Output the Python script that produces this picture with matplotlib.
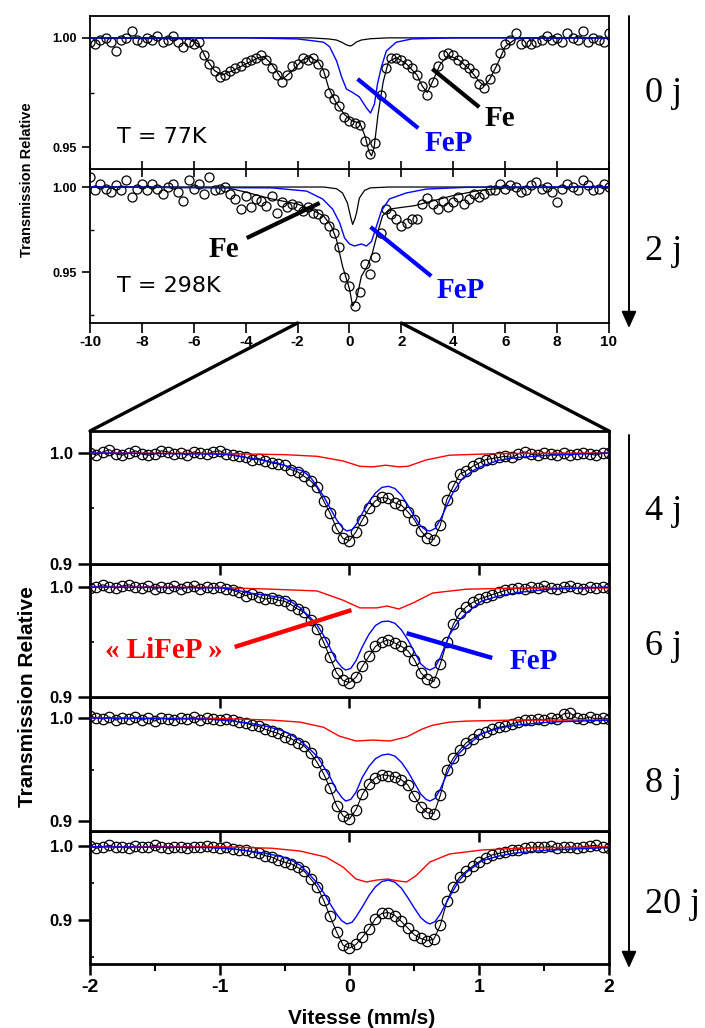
import numpy as np
import matplotlib
matplotlib.use("Agg")
import matplotlib.pyplot as plt
from matplotlib.patches import ConnectionPatch, FancyArrowPatch
from matplotlib.ticker import MultipleLocator, FixedLocator, FormatStrFormatter

plt.rcParams["font.family"] = ["Liberation Sans", "DejaVu Sans"]
plt.rcParams["font.weight"] = "bold"
plt.rcParams["axes.unicode_minus"] = False

W, H = 705, 1028  # output size in pixels

# ---- wide scans (-10..10 mm/s), one channel every 0.2 mm/s ----
v_wide = np.linspace(-10, 10, 101)

t_0j = [0.998, 0.997, 0.999, 1.000, 0.998, 0.994, 0.999, 1.000, 1.003, 0.999, 0.998,
        1.000, 0.999, 1.001, 0.998, 0.999, 1.001, 0.998, 0.996, 0.998, 0.997,
        0.998, 0.992, 0.988, 0.985, 0.982, 0.983, 0.985, 0.986, 0.987, 0.989,
        0.990, 0.991, 0.992, 0.990, 0.986, 0.983, 0.980, 0.983, 0.987, 0.988,
        0.991, 0.990, 0.991, 0.988, 0.984, 0.975, 0.972, 0.969, 0.964, 0.962,
        0.961, 0.960, 0.953, 0.947, 0.952, 0.974, 0.986, 0.991, 0.991, 0.990,
        0.988, 0.986, 0.983, 0.978, 0.974, 0.980, 0.987, 0.992, 0.993,
        0.992, 0.990, 0.988, 0.986, 0.984, 0.979, 0.977, 0.981, 0.986, 0.993,
        0.997, 0.999, 1.002, 0.997, 0.998, 0.997, 0.998, 0.999, 1.001, 0.999,
        1.000, 0.998, 1.002, 1.000, 0.999, 1.003, 0.998, 1.000, 0.999, 0.998, 1.002]

t_2j = [1.006, 0.998, 1.002, 0.999, 0.997, 1.001, 0.998, 1.004, 0.994, 0.999, 1.002,
        0.998, 1.002, 0.999, 0.996, 1.000, 1.002, 0.997, 0.992, 1.004, 0.999,
        1.002, 0.996, 1.006, 0.998, 0.999, 1.000, 0.996, 0.993, 0.987, 0.995,
        0.988, 0.993, 0.992, 0.989, 0.995, 0.985, 0.991, 0.988, 0.990, 0.989,
        0.986, 0.988, 0.985, 0.984, 0.981, 0.977, 0.973, 0.965, 0.947, 0.942,
        0.930, 0.938, 0.955, 0.949, 0.959, 0.973, 0.987, 0.984, 0.981, 0.977,
        0.979, 0.981, 0.981, 0.990, 0.9935, 0.990, 0.987, 0.992, 0.988,
        0.991, 0.994, 0.990, 0.993, 0.996, 0.994, 0.996, 0.998, 0.998, 1.002,
        0.999, 1.001, 1.000, 0.997, 0.998, 1.001, 1.003, 0.999, 1.000, 0.997,
        0.991, 0.999, 1.002, 1.000, 0.998, 1.004, 1.001, 0.998, 0.999, 1.002, 1.000]

# fitted curves, 0 j (77 K)
fit0_v = [-10, -6.2, -5.8, -5.5, -5.2, -4.9, -4.5, -4.0, -3.5, -3.3, -3.0, -2.6, -2.2,
          -1.8, -1.5, -1.2, -1.0, -0.8, -0.5, -0.2, 0.1, 0.4, 0.6, 0.75, 0.85, 0.95,
          1.1, 1.3, 1.5, 1.8, 2.2, 2.6, 2.8, 3.0, 3.2, 3.5, 3.8, 4.2, 4.6, 5.0, 5.2,
          5.4, 5.7, 6.0, 6.4, 7, 10]
fit0_t = [1.0, 0.9995, 0.997, 0.990, 0.985, 0.983, 0.985, 0.988, 0.991, 0.9915, 0.988,
          0.981, 0.985, 0.990, 0.991, 0.989, 0.985, 0.977, 0.970, 0.965, 0.962, 0.961,
          0.955, 0.948, 0.946, 0.950, 0.965, 0.980, 0.989, 0.991, 0.988, 0.983, 0.978,
          0.975, 0.980, 0.988, 0.992, 0.990, 0.986, 0.980, 0.978, 0.981, 0.988, 0.996,
          0.9995, 1.0, 1.0]
fep0_v = [-10, -4, -2, -1.3, -1.0, -0.77, -0.5, -0.3, -0.12, 0.12, 0.38, 0.65, 0.81,
          0.96, 1.08, 1.23, 1.42, 1.8, 2.4, 4, 10]
fep0_t = [1.0, 1.0, 0.9995, 0.9985, 0.998, 0.996, 0.9895, 0.982, 0.9766, 0.975, 0.973,
          0.968, 0.9656, 0.9697, 0.979, 0.9867, 0.994, 0.998, 0.9995, 1.0, 1.0]
fe0_v = [-10, -1.5, -0.8, -0.5, -0.3, -0.15, -0.05, 0.04, 0.13, 0.25, 0.45, 0.8, 1.5, 10]
fe0_t = [1.0, 1.0, 0.9995, 0.999, 0.998, 0.997, 0.9965, 0.9963, 0.9968, 0.998, 0.999,
         0.9996, 1.0, 1.0]

# fitted curves, 2 j (298 K)
fit2_v = [-10, -4.7, -4.0, -3.0, -2.0, -1.5, -1.0, -0.7, -0.5, -0.27, 0.0, 0.12, 0.27,
          0.46, 0.69, 0.88, 1.08, 1.27, 1.54, 2.0, 2.5, 3.0, 4.0, 5.0, 6.0, 10]
fit2_t = [1.0, 0.9995, 0.997, 0.993, 0.990, 0.987, 0.983, 0.977, 0.969, 0.9535, 0.940,
          0.930, 0.934, 0.9476, 0.9535, 0.961, 0.973, 0.983, 0.987, 0.988, 0.989, 0.991,
          0.995, 0.998, 0.9995, 1.0]
fep2_v = [-10, -3, -1.65, -1.04, -0.65, -0.38, -0.19, 0.0, 0.19, 0.46, 0.65, 0.85, 1.04,
          1.23, 1.54, 2.19, 2.96, 4.5, 10]
fep2_t = [1.0, 0.9995, 0.9976, 0.993, 0.987, 0.979, 0.970, 0.9665, 0.9653, 0.9665,
          0.9653, 0.968, 0.977, 0.986, 0.993, 0.9965, 0.9988, 0.9998, 1.0]
fe2_v = [-10, -1.0, -0.5, -0.27, -0.08, 0.05, 0.12, 0.2, 0.27, 0.38, 0.58, 0.8, 1.5, 10]
fe2_t = [1.0, 1.0, 0.999, 0.9965, 0.9906, 0.982, 0.978, 0.981, 0.9847, 0.9935, 0.998,
         0.9995, 1.0, 1.0]

# ---- zoomed scans (-2..2 mm/s), one channel every 0.05 mm/s ----
v_zoom = np.linspace(-2, 2, 81)

t_4j = [1.000, 0.998, 1.001, 1.003, 0.999, 0.998, 1.000, 1.002, 0.999, 0.998,
        0.999, 1.002, 1.001, 0.999, 1.000, 0.998, 1.001, 1.000, 0.999, 1.001,
        1.002, 0.999, 0.998, 0.997, 0.996, 0.994, 0.995, 0.993, 0.991, 0.990,
        0.989, 0.985, 0.983, 0.979, 0.975, 0.969, 0.957, 0.946, 0.932, 0.923,
        0.921, 0.929, 0.940, 0.950, 0.957, 0.960, 0.959, 0.955, 0.953, 0.947,
        0.940, 0.930, 0.923, 0.922, 0.935, 0.958, 0.970, 0.981, 0.984, 0.988,
        0.991, 0.994, 0.995, 0.996, 0.997, 0.996, 0.999, 1.001, 0.999, 0.998,
        1.000, 0.999, 0.998, 1.000, 0.998, 0.999, 1.000, 0.999, 0.998, 1.000, 1.000]
t_6j = [0.999, 1.000, 1.002, 1.000, 0.999, 1.001, 1.002, 1.000, 0.999, 1.001,
        0.998, 1.000, 0.999, 1.001, 0.998, 1.000, 1.001, 0.998, 1.000, 0.999,
        1.000, 0.998, 0.997, 0.995, 0.992, 0.994, 0.991, 0.989, 0.990, 0.988,
        0.987, 0.984, 0.980, 0.977, 0.970, 0.962, 0.950, 0.936, 0.922, 0.915,
        0.913, 0.918, 0.928, 0.937, 0.946, 0.950, 0.952, 0.949, 0.946, 0.942,
        0.934, 0.922, 0.916, 0.914, 0.930, 0.950, 0.966, 0.976, 0.982, 0.986,
        0.989, 0.991, 0.993, 0.995, 0.997, 0.998, 0.999, 0.998, 1.000, 0.999,
        1.001, 0.999, 0.998, 1.000, 1.001, 0.999, 0.998, 1.000, 0.999, 1.000, 0.999]
t_8j = [1.002, 1.000, 0.999, 1.001, 0.998, 1.000, 0.999, 1.001, 0.998, 1.000,
        0.997, 1.000, 0.999, 0.998, 1.000, 0.999, 1.001, 0.998, 1.000, 0.999,
        0.998, 0.999, 0.998, 0.996, 0.995, 0.993, 0.992, 0.989, 0.987, 0.985,
        0.982, 0.980, 0.976, 0.973, 0.966, 0.957, 0.946, 0.932, 0.915, 0.905,
        0.902, 0.911, 0.926, 0.936, 0.942, 0.945, 0.944, 0.943, 0.940, 0.935,
        0.924, 0.914, 0.908, 0.907, 0.925, 0.950, 0.961, 0.969, 0.976, 0.980,
        0.984, 0.986, 0.989, 0.991, 0.992, 0.994, 0.996, 0.998, 0.998, 0.999,
        0.998, 1.000, 0.999, 1.004, 1.005, 1.000, 0.999, 1.001, 0.999, 1.000, 0.999]
t_20j = [1.000, 0.997, 0.999, 1.001, 0.998, 0.999, 0.997, 1.000, 0.998, 0.999,
         1.001, 0.999, 0.997, 0.998, 0.999, 0.997, 0.998, 0.999, 1.000, 0.998,
         0.997, 0.998, 0.996, 0.995, 0.994, 0.992, 0.990, 0.987, 0.985, 0.981,
         0.978, 0.976, 0.971, 0.966, 0.956, 0.945, 0.927, 0.905, 0.884, 0.866,
         0.862, 0.867, 0.877, 0.888, 0.902, 0.909, 0.910, 0.906, 0.898, 0.889,
         0.880, 0.875, 0.872, 0.874, 0.893, 0.925, 0.945, 0.958, 0.966, 0.973,
         0.979, 0.984, 0.988, 0.990, 0.992, 0.994, 0.995, 0.997, 0.998, 0.999,
         0.998, 1.000, 0.997, 0.998, 0.999, 0.997, 0.999, 1.000, 1.001, 0.998, 0.997]

# FeP doublet (blue) and "LiFeP" (red) components
fep4_v = [-2, -1.0, -0.9, -0.77, -0.65, -0.56, -0.45, -0.36, -0.3, -0.25,
          -0.2, -0.15, -0.1, -0.05, -0.02, 0.02, 0.06, 0.1, 0.15, 0.2,
          0.25, 0.3, 0.35, 0.4, 0.45, 0.5, 0.55, 0.59, 0.62, 0.66,
          0.7, 0.75, 0.8, 0.87, 0.95, 1.02, 1.15, 1.3, 1.54, 2.0]
fep4_t = [1.0, 0.999, 0.998, 0.9955, 0.993, 0.991, 0.987, 0.9838, 0.978, 0.970,
          0.961, 0.9505, 0.940, 0.932, 0.9297, 0.931, 0.937, 0.946, 0.956, 0.964,
          0.969, 0.970, 0.968, 0.962, 0.953, 0.943, 0.934, 0.9305, 0.9297, 0.932,
          0.940, 0.9525, 0.965, 0.977, 0.984, 0.988, 0.9935, 0.996, 0.998, 1.0]
li4_v = [-2, -1.0, -0.5, -0.25, -0.05, 0.08, 0.18, 0.28, 0.38, 0.45, 0.59, 0.77, 1.15, 2.0]
li4_t = [1.0, 0.9995, 0.9985, 0.997, 0.9928, 0.988, 0.9875, 0.989, 0.9875, 0.988, 0.9937,
         0.998, 0.9995, 1.0]

fep6_v = [-2, -1.0, -0.9, -0.77, -0.64, -0.51, -0.44, -0.38, -0.3, -0.25,
          -0.2, -0.15, -0.1, -0.06, -0.03, 0.01, 0.05, 0.1, 0.15, 0.2,
          0.25, 0.3, 0.35, 0.4, 0.45, 0.5, 0.55, 0.59, 0.62, 0.66,
          0.7, 0.77, 0.84, 0.9, 1.02, 1.15, 1.3, 1.54, 2.0]
fep6_t = [1.0, 0.9992, 0.998, 0.9945, 0.9925, 0.990, 0.986, 0.981, 0.972, 0.9655,
          0.956, 0.9445, 0.933, 0.927, 0.9245, 0.926, 0.933, 0.946, 0.957, 0.965,
          0.9685, 0.969, 0.967, 0.961, 0.952, 0.941, 0.930, 0.926, 0.9245, 0.927,
          0.936, 0.9564, 0.969, 0.9764, 0.9873, 0.9918, 0.995, 0.998, 1.0]
li6_v = [-2, -1.0, -0.6, -0.25, -0.05, 0.08, 0.21, 0.29, 0.38, 0.49, 0.64, 0.9, 1.3, 2.0]
li6_t = [1.0, 0.9995, 0.998, 0.9964, 0.988, 0.981, 0.981, 0.9827, 0.980, 0.9855, 0.9945,
         0.998, 0.999, 0.999]

fep8_v = [-2, -1.1, -0.9, -0.77, -0.64, -0.51, -0.44, -0.38, -0.3, -0.25,
          -0.2, -0.15, -0.1, -0.06, -0.03, 0.01, 0.05, 0.1, 0.15, 0.2,
          0.25, 0.3, 0.35, 0.4, 0.45, 0.5, 0.55, 0.59, 0.62, 0.66,
          0.7, 0.77, 0.84, 0.9, 1.02, 1.15, 1.28, 1.54, 2.0]
fep8_t = [1.0, 0.999, 0.997, 0.995, 0.992, 0.9874, 0.983, 0.978, 0.969, 0.963,
          0.953, 0.9427, 0.930, 0.923, 0.9194, 0.921, 0.928, 0.9427, 0.953, 0.9605,
          0.964, 0.965, 0.963, 0.957, 0.948, 0.937, 0.926, 0.921, 0.9194, 0.922,
          0.931, 0.951, 0.965, 0.9725, 0.985, 0.990, 0.993, 0.996, 0.998]
li8_v = [-2, -1.0, -0.6, -0.38, -0.2, -0.08, 0.05, 0.18, 0.31, 0.44, 0.56, 0.64, 0.77,
         0.9, 1.28, 2.0]
li8_t = [1.0, 0.9995, 0.998, 0.996, 0.991, 0.9825, 0.9777, 0.9786, 0.9777, 0.9816, 0.9893,
         0.993, 0.996, 0.997, 0.998, 0.998]

fep20_v = [-2, -1.1, -0.9, -0.77, -0.64, -0.51, -0.44, -0.38, -0.3, -0.25,
           -0.2, -0.15, -0.1, -0.06, -0.02, 0.02, 0.05, 0.1, 0.15, 0.2,
           0.25, 0.3, 0.35, 0.4, 0.45, 0.5, 0.55, 0.59, 0.62, 0.66,
           0.7, 0.77, 0.84, 0.9, 1.02, 1.15, 1.28, 1.54, 2.0]
fep20_t = [0.999, 0.998, 0.996, 0.993, 0.990, 0.985, 0.980, 0.974, 0.960, 0.950,
           0.937, 0.922, 0.908, 0.899, 0.8946, 0.897, 0.904, 0.918, 0.933, 0.945,
           0.952, 0.954, 0.951, 0.943, 0.930, 0.916, 0.903, 0.897, 0.8946, 0.898,
           0.908, 0.931, 0.952, 0.9642, 0.980, 0.9865, 0.9905, 0.9946, 0.998]
li20_v = [-2, -1.0, -0.6, -0.38, -0.18, -0.05, 0.05, 0.13, 0.21, 0.29, 0.38, 0.44, 0.51,
          0.62, 0.77, 1.02, 1.3, 2.0]
li20_t = [0.999, 0.999, 0.997, 0.9932, 0.985, 0.9716, 0.9554, 0.9514, 0.954, 0.9554,
          0.9527, 0.9514, 0.9595, 0.9784, 0.9892, 0.9946, 0.997, 0.999]

days = ["0 j", "2 j", "4 j", "6 j", "8 j", "20 j"]

BLUE = "#0000ff"
RED = "#ff0000"

fig = plt.figure(figsize=(W / 100, H / 100), dpi=100)


def box(left, top, right, bottom):
    # axes placed with pixel edges
    return fig.add_axes([left / W, 1 - bottom / H, (right - left) / W, (bottom - top) / H])


# ---------------- top: wide velocity range ----------------
ax0 = box(90, 16, 609, 169)
ax2 = box(90, 169, 609, 323)
ax0.set_zorder(3)

top_panels = [
    (ax0, t_0j, fit0_v, fit0_t, fep0_v, fep0_t, fe0_v, fe0_t, (0.940, 1.010), [0.975]),
    (ax2, t_2j, fit2_v, fit2_t, fep2_v, fep2_t, fe2_v, fe2_t, (0.920, 1.0106), [0.925, 0.975]),
]
for ax, t, fv, ft, pv, pt, ev, et, ylim, minors in top_panels:
    ax.plot(fv, ft, color="k", lw=0.9, zorder=2)
    ax.plot(v_wide, t, "o", ms=6.5, mfc="none", mec="k", mew=0.9, zorder=3)
    ax.plot(ev, et, color="k", lw=0.9, zorder=4)
    ax.plot(pv, pt, color=BLUE, lw=1.0, zorder=5)
    ax.set_xlim(-10, 10)
    ax.set_ylim(*ylim)
    ax.xaxis.set_major_locator(MultipleLocator(2))
    ax.set_yticks([0.95, 1.00])
    ax.yaxis.set_major_formatter(FormatStrFormatter("%.2f"))
    ax.yaxis.set_minor_locator(FixedLocator(minors))
    ax.tick_params(axis="y", which="major", direction="out", length=6, width=1.2, labelsize=9)
    ax.tick_params(axis="y", which="minor", direction="in", length=3, width=1.0)
    for sp in ax.spines.values():
        sp.set_linewidth(1.3)

ax0.tick_params(axis="x", direction="inout", length=12, width=1.2, labelbottom=False)
ax2.tick_params(axis="x", direction="out", length=7, width=1.2, labelsize=11, pad=2)

# annotations 0 j
ax0.plot([0.31, 2.65], [0.9812, 0.9587], color=BLUE, lw=3, solid_capstyle="butt", zorder=6)
ax0.text(3.81, 0.9518, "FeP", color=BLUE, family="Liberation Serif", size=21,
         weight="bold", ha="center", va="center")
ax0.plot([3.19, 5.0], [0.9858, 0.9683], color="k", lw=3, solid_capstyle="butt", zorder=6)
ax0.text(5.81, 0.9633, "Fe", color="k", family="Liberation Serif", size=21,
         weight="bold", ha="center", va="center")
ax0.text(-8.96, 0.9546, "T = 77K", family="DejaVu Sans", weight="normal", size=16,
         ha="left", va="center")

# annotations 2 j
ax2.plot([-3.96, -1.15], [0.970, 0.9906], color="k", lw=3, solid_capstyle="butt", zorder=6)
ax2.text(-4.85, 0.963, "Fe", color="k", family="Liberation Serif", size=21,
         weight="bold", ha="center", va="center")
ax2.plot([0.81, 3.15], [0.9765, 0.9476], color=BLUE, lw=3, solid_capstyle="butt", zorder=6)
ax2.text(4.27, 0.9394, "FeP", color=BLUE, family="Liberation Serif", size=21,
         weight="bold", ha="center", va="center")
ax2.text(-8.96, 0.9418, "T = 298K", family="DejaVu Sans", weight="normal", size=16,
         ha="left", va="center")

# ---------------- bottom: zoom on -2..2 mm/s ----------------
edges = [(431, 564), (564, 697), (697, 831), (831, 964)]
zoom_panels = [
    (t_4j, fep4_v, fep4_t, li4_v, li4_t, (0.9, 1.0198)),
    (t_6j, fep6_v, fep6_t, li6_v, li6_t, (0.9, 1.0209)),
    (t_8j, fep8_v, fep8_t, li8_v, li8_t, (0.8903, 1.0204)),
    (t_20j, fep20_v, fep20_t, li20_v, li20_t, (0.8405, 1.0203)),
]
zaxes = []
for i, ((top, bot), (t, pv, pt, lv, lt, ylim)) in enumerate(zip(edges, zoom_panels)):
    ax = box(90, top, 609, bot)
    ax.set_zorder(10 - i)
    ax.plot(v_zoom, t, "o-", color="k", lw=0.8, ms=7.5, mfc="none", mec="k", mew=0.9, zorder=2)
    ax.plot(lv, lt, color=RED, lw=1.0, zorder=4)
    ax.plot(pv, pt, color=BLUE, lw=1.0, zorder=5)
    ax.set_xlim(-2, 2)
    ax.set_ylim(*ylim)
    ax.xaxis.set_major_locator(MultipleLocator(1))
    ax.xaxis.set_minor_locator(MultipleLocator(0.5))
    ax.set_yticks([0.9, 1.0])
    ax.yaxis.set_major_formatter(FormatStrFormatter("%.1f"))
    ax.yaxis.set_minor_locator(FixedLocator([0.85, 0.95]))
    ax.tick_params(axis="y", which="major", direction="out", length=9, width=1.8, labelsize=12)
    ax.tick_params(axis="y", which="minor", direction="in", length=3, width=1.2)
    last = i == len(edges) - 1
    ax.tick_params(axis="x", which="major", direction="out", length=8, width=1.8,
                   labelbottom=last, labelsize=14, pad=3)
    ax.tick_params(axis="x", which="minor", direction="out", length=5 if last else 0, width=1.5)
    for sp in ax.spines.values():
        sp.set_linewidth(2.0)
    zaxes.append(ax)

ax6 = zaxes[1]
ax6.plot([-0.885, 0.015], [0.9455, 0.979], color=RED, lw=3.2, solid_capstyle="butt", zorder=6)
ax6.text(-1.43, 0.9427, "« LiFeP »", color=RED, family="Liberation Serif", size=21,
         weight="bold", ha="center", va="center")
ax6.plot([0.44, 1.10], [0.958, 0.9355], color=BLUE, lw=3.2, solid_capstyle="butt", zorder=6)
ax6.text(1.42, 0.932, "FeP", color=BLUE, family="Liberation Serif", size=21,
         weight="bold", ha="center", va="center")

# zoom lines from the wide scan to the -2..2 window
for xv in (-2, 2):
    con = ConnectionPatch(xyA=(xv, 0), coordsA=ax2.get_xaxis_transform(),
                          xyB=(xv, 1), coordsB=zaxes[0].get_xaxis_transform(),
                          color="k", lw=2.4)
    fig.add_artist(con)

# time arrows and labels on the right
for y0, y1 in [(16, 328), (435, 968)]:
    fig.add_artist(FancyArrowPatch((629 / W, 1 - y0 / H), (629 / W, 1 - y1 / H),
                                   transform=fig.transFigure,
                                   arrowstyle="-|>,head_length=1.0,head_width=0.45",
                                   mutation_scale=10, lw=1.4, color="k",
                                   shrinkA=0, shrinkB=0))
for d, yb in zip(days, [102, 260, 520, 655, 792, 913]):
    fig.text(645 / W, 1 - yb / H, d, family="Liberation Serif", weight="normal",
             size=26, ha="left", va="baseline")

fig.text(27 / W, 1 - 180 / H, "Transmission Relative", rotation=90, size=10.5,
         ha="center", va="center")
fig.text(28 / W, 1 - 697 / H, "Transmission Relative", rotation=90, size=15,
         ha="center", va="center")
fig.text(362 / W, 1 - 1018 / H, "Vitesse (mm/s)", size=15, ha="center", va="center")

fig.savefig("out.png", dpi=100)
